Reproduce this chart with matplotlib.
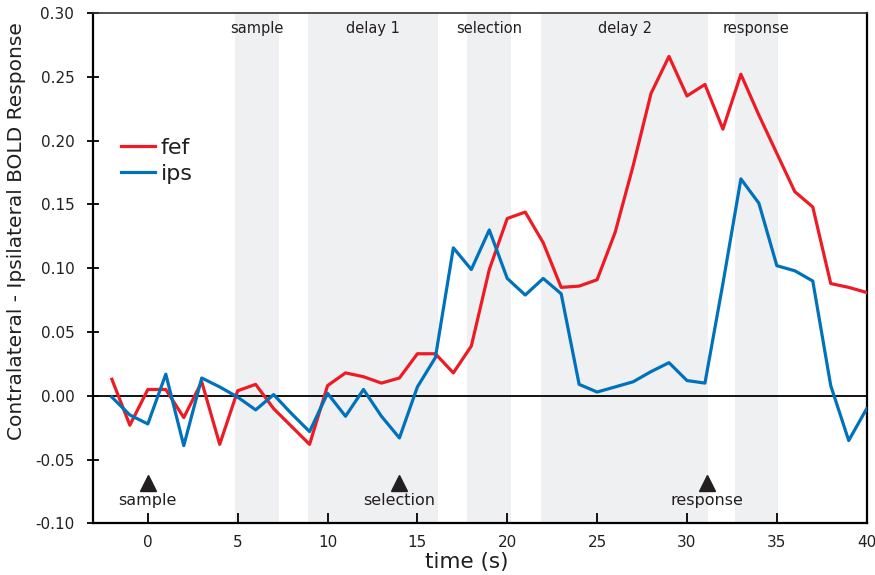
import numpy as np
import matplotlib.pyplot as plt

# time points (s)
time = list(range(-2, 41))

fef = [0.013, -0.023, 0.005, 0.005, -0.017, 0.011, -0.038, 0.004, 0.009, -0.010,
       -0.024, -0.038, 0.008, 0.018, 0.015, 0.010, 0.014, 0.033, 0.033, 0.018,
       0.039, 0.099, 0.139, 0.144, 0.120, 0.085, 0.086, 0.091, 0.128, 0.180,
       0.237, 0.266, 0.235, 0.244, 0.209, 0.252, 0.220, 0.190, 0.160, 0.148,
       0.088, 0.085, 0.081]

ips = [-0.001, -0.015, -0.022, 0.017, -0.039, 0.014, 0.007, -0.001, -0.011, 0.001,
       -0.014, -0.028, 0.002, -0.016, 0.005, -0.016, -0.033, 0.007, 0.030, 0.116,
       0.099, 0.130, 0.092, 0.079, 0.092, 0.080, 0.009, 0.003, 0.007, 0.011,
       0.019, 0.026, 0.012, 0.010, 0.088, 0.170, 0.151, 0.102, 0.098, 0.090,
       0.008, -0.035, -0.010]

periods = ["sample", "delay 1", "selection", "delay 2", "response"]
period_start = [4.85, 8.93, 17.77, 21.9, 32.65]
period_end = [7.3, 16.13, 20.22, 31.18, 35.08]

events = ["sample", "selection", "response"]
event_time = [0, 14, 31.1]

txt = "#231f20"

fig = plt.figure(figsize=(8.75, 5.75), dpi=100)
ax = fig.add_axes([0.1063, 0.0896, 0.8842, 0.8878])

for name, a, b in zip(periods, period_start, period_end):
    ax.axvspan(a, b, color="#eff0f2", lw=0, zorder=0)
    ax.text((a + b) / 2, 0.2875, name, ha="center", va="center",
            fontsize=10.5, color=txt)

ax.axhline(0, color="black", lw=1.3, zorder=1)

ax.plot(time, fef, color="#ed1c24", lw=2.3, label="fef", zorder=3)
ax.plot(time, ips, color="#0072bc", lw=2.3, label="ips", zorder=3)

for name, t in zip(events, event_time):
    ax.plot(t, -0.068, marker="^", ms=12, color=txt, zorder=4)
    ax.text(t, -0.082, name, ha="center", va="center", fontsize=11.5, color=txt)

ax.set_xlim(-3.05, 40)
ax.set_ylim(-0.10, 0.30)
ax.set_xticks(np.arange(0, 41, 5))
ax.set_yticks(np.arange(-0.10, 0.301, 0.05))
ax.set_yticklabels(["%.2f" % v for v in np.arange(-0.10, 0.301, 0.05)])
ax.tick_params(axis="x", direction="in", length=7, width=1.3, labelsize=11,
               colors=txt, pad=8)
ax.tick_params(axis="y", direction="inout", length=9, width=1.3, labelsize=11,
               colors=txt, pad=9)
ax.tick_params(axis="both", color="black")

for s in ["left", "right", "bottom"]:
    ax.spines[s].set_linewidth(1.6)
    ax.spines[s].set_color("black")
ax.spines["top"].set_linewidth(1.2)
ax.spines["top"].set_color("#333333")

ax.set_xlabel("time (s)", fontsize=15.5, color=txt)
ax.xaxis.set_label_coords(0.483, -0.056)
ax.set_ylabel("Contralateral - Ipsilateral BOLD Response", fontsize=14.5,
              color=txt)
ax.yaxis.set_label_coords(-0.087, 0.5735)

ax.legend(loc="center left", bbox_to_anchor=(0.036, 0.71), frameon=False,
          fontsize=16, handlelength=1.55, handletextpad=0.25, labelspacing=0.28,
          borderpad=0, borderaxespad=0, labelcolor=txt)

fig.savefig("out.png", dpi=100)
